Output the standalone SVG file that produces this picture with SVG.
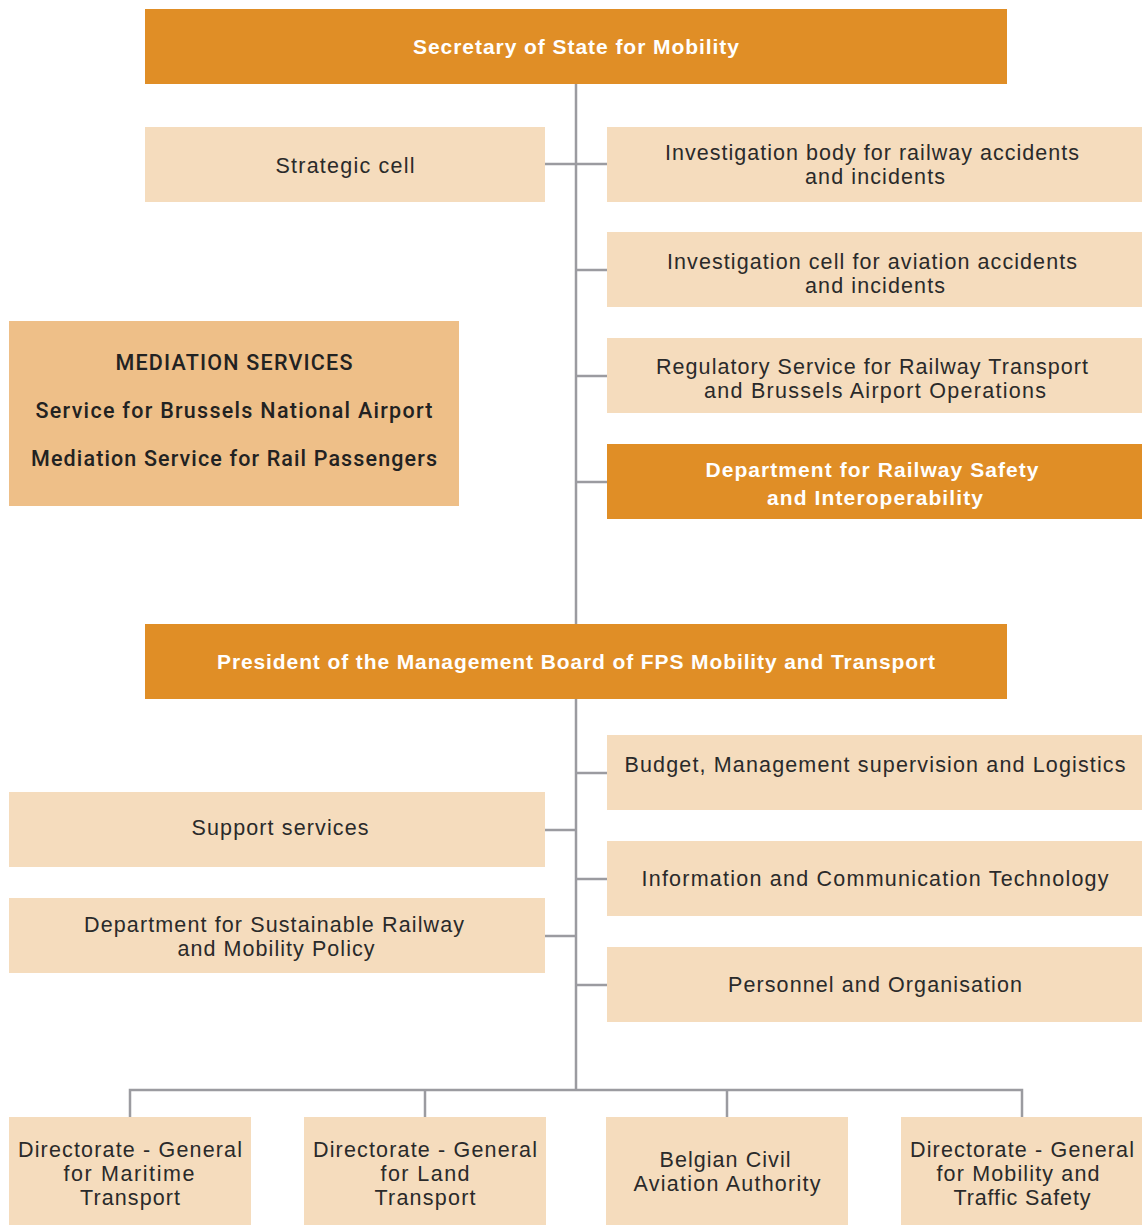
<svg xmlns="http://www.w3.org/2000/svg" width="1142" height="1225" viewBox="0 0 1142 1225">
<style>
.dark{fill:#E08E26}
.light{fill:#F5DCBD}
.med{fill:#EEBF88}
text{font-family:"Liberation Sans",Arial,sans-serif;font-size:21.5px;fill:#2a2a2a;text-anchor:middle}
.w{fill:#ffffff;font-weight:bold;font-size:21px}
.m{font-family:Roboto,"Liberation Sans",sans-serif;font-weight:500;fill:#222;font-size:21.5px}
.c line{stroke:#9B9BA0;stroke-width:2.5;fill:none}
</style>
<rect width="1142" height="1225" fill="#ffffff"/>
<g class="c" id="connectors">
<line x1="576" y1="84" x2="576" y2="624"/>
<line x1="545" y1="164" x2="607" y2="164"/>
<line x1="576" y1="270" x2="607" y2="270"/>
<line x1="576" y1="376" x2="607" y2="376"/>
<line x1="576" y1="482" x2="607" y2="482"/>
<line x1="576" y1="699" x2="576" y2="1090"/>
<line x1="576" y1="773" x2="607" y2="773"/>
<line x1="545" y1="830" x2="576" y2="830"/>
<line x1="576" y1="879" x2="607" y2="879"/>
<line x1="545" y1="936" x2="576" y2="936"/>
<line x1="576" y1="985" x2="607" y2="985"/>
<polyline points="130,1117 130,1090 1022,1090 1022,1117" style="stroke:#9B9BA0;stroke-width:2.5;fill:none"/>
<line x1="425" y1="1090" x2="425" y2="1117"/>
<line x1="727" y1="1090" x2="727" y2="1117"/>
</g>
<g id="secretary"><rect class="dark" x="145" y="9" width="862" height="75"/><text class="w" x="576" y="54" textLength="326" lengthAdjust="spacing">Secretary of State for Mobility</text></g>
<g id="strategic"><rect class="light" x="145" y="127" width="400" height="75"/><text x="345" y="173" textLength="139" lengthAdjust="spacing">Strategic cell</text></g>
<g id="rail-investigation"><rect class="light" x="607" y="127" width="535" height="75"/><text x="872" y="160" textLength="414" lengthAdjust="spacing">Investigation body for railway accidents</text><text x="875" y="184" textLength="140" lengthAdjust="spacing">and incidents</text></g>
<g id="aviation-investigation"><rect class="light" x="607" y="232" width="535" height="75"/><text x="872" y="269" textLength="410" lengthAdjust="spacing">Investigation cell for aviation accidents</text><text x="875" y="293" textLength="140" lengthAdjust="spacing">and incidents</text></g>
<g id="regulatory"><rect class="light" x="607" y="338" width="535" height="75"/><text x="872" y="374" textLength="432" lengthAdjust="spacing">Regulatory Service for Railway Transport</text><text x="875" y="398" textLength="342" lengthAdjust="spacing">and Brussels Airport Operations</text></g>
<g id="railway-safety"><rect class="dark" x="607" y="444" width="535" height="75"/><text class="w" x="872" y="477" textLength="333" lengthAdjust="spacing">Department for Railway Safety</text><text class="w" x="875" y="505" textLength="216" lengthAdjust="spacing">and Interoperability</text></g>
<g id="mediation"><rect class="med" x="9" y="321" width="450" height="185"/><text class="m" x="234" y="370" textLength="237" lengthAdjust="spacing">MEDIATION SERVICES</text><text class="m" x="234" y="418" textLength="397" lengthAdjust="spacing">Service for Brussels National Airport</text><text class="m" x="234" y="466" textLength="406" lengthAdjust="spacing">Mediation Service for Rail Passengers</text></g>
<g id="president"><rect class="dark" x="145" y="624" width="862" height="75"/><text class="w" x="576" y="669" textLength="718" lengthAdjust="spacing">President of the Management Board of FPS Mobility and Transport</text></g>
<g id="budget"><rect class="light" x="607" y="735" width="535" height="75"/><text x="875" y="772" textLength="501" lengthAdjust="spacing">Budget, Management supervision and Logistics</text></g>
<g id="support"><rect class="light" x="9" y="792" width="536" height="75"/><text x="280" y="835" textLength="177" lengthAdjust="spacing">Support services</text></g>
<g id="ict"><rect class="light" x="607" y="841" width="535" height="75"/><text x="875" y="886" textLength="467" lengthAdjust="spacing">Information and Communication Technology</text></g>
<g id="sustainable"><rect class="light" x="9" y="898" width="536" height="75"/><text x="274" y="932" textLength="380" lengthAdjust="spacing">Department for Sustainable Railway</text><text x="276" y="956" textLength="197" lengthAdjust="spacing">and Mobility Policy</text></g>
<g id="personnel"><rect class="light" x="607" y="947" width="535" height="75"/><text x="875" y="992" textLength="294" lengthAdjust="spacing">Personnel and Organisation</text></g>
<g id="maritime"><rect class="light" x="9" y="1117" width="242" height="108"/><text x="130" y="1157" textLength="224" lengthAdjust="spacing">Directorate - General</text><text x="129" y="1181" textLength="131" lengthAdjust="spacing">for Maritime</text><text x="130" y="1205" textLength="100" lengthAdjust="spacing">Transport</text></g>
<g id="land"><rect class="light" x="304" y="1117" width="242" height="108"/><text x="425" y="1157" textLength="224" lengthAdjust="spacing">Directorate - General</text><text x="425" y="1181" textLength="89" lengthAdjust="spacing">for Land</text><text x="425" y="1205" textLength="101" lengthAdjust="spacing">Transport</text></g>
<g id="bcaa"><rect class="light" x="606" y="1117" width="242" height="108"/><text x="725" y="1167" textLength="131" lengthAdjust="spacing">Belgian Civil</text><text x="727" y="1191" textLength="187" lengthAdjust="spacing">Aviation Authority</text></g>
<g id="mobility"><rect class="light" x="901" y="1117" width="241" height="108"/><text x="1022" y="1157" textLength="224" lengthAdjust="spacing">Directorate - General</text><text x="1018" y="1181" textLength="163" lengthAdjust="spacing">for Mobility and</text><text x="1022" y="1205" textLength="137" lengthAdjust="spacing">Traffic Safety</text></g>
</svg>
